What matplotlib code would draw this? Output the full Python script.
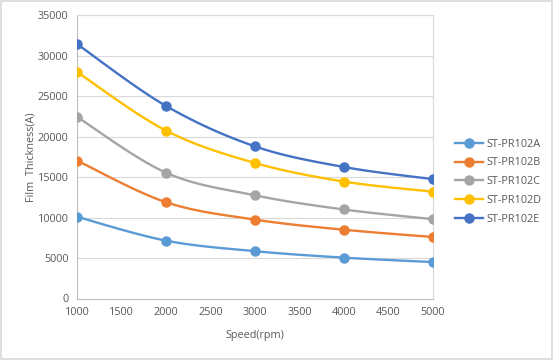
import numpy as np
import matplotlib
matplotlib.use("Agg")
import matplotlib.pyplot as plt
from matplotlib.patches import Rectangle

# Data
speeds = [1000, 2000, 3000, 4000, 5000]
series_names = ["ST-PR102A", "ST-PR102B", "ST-PR102C", "ST-PR102D", "ST-PR102E"]
pr102a = [10100, 7150, 5850, 5050, 4500]
pr102b = [17050, 11900, 9750, 8500, 7600]
pr102c = [22450, 15550, 12750, 11000, 9800]
pr102d = [28000, 20750, 16750, 14450, 13200]
pr102e = [31450, 23800, 18800, 16250, 14750]
colors = ["#5B9BD5", "#ED7D31", "#A5A5A5", "#FFC000", "#4472C4"]
yticks = [0, 5000, 10000, 15000, 20000, 25000, 30000, 35000]
xticks = [1000, 1500, 2000, 2500, 3000, 3500, 4000, 4500, 5000]


def smooth(x, y, n=30):
    # Excel-style smoothed line (Catmull-Rom bezier)
    x = np.asarray(x, float)
    y = np.asarray(y, float)
    px = np.concatenate([[x[0]], x, [x[-1]]])
    py = np.concatenate([[y[0]], y, [y[-1]]])
    xs, ys = [], []
    t = np.linspace(0, 1, n)
    for i in range(1, len(px) - 2):
        p0 = np.array([px[i], py[i]])
        p3 = np.array([px[i + 1], py[i + 1]])
        p1 = p0 + (p3 - np.array([px[i - 1], py[i - 1]])) / 6.0
        p2 = p3 - (np.array([px[i + 2], py[i + 2]]) - p0) / 6.0
        b = ((1 - t) ** 3)[:, None] * p0 + (3 * (1 - t) ** 2 * t)[:, None] * p1 \
            + (3 * (1 - t) * t ** 2)[:, None] * p2 + (t ** 3)[:, None] * p3
        xs.extend(b[:, 0])
        ys.extend(b[:, 1])
    return xs, ys


plt.rcParams['font.family'] = ['Open Sans', 'DejaVu Sans']
txt = "#595959"

fig = plt.figure(figsize=(5.53, 3.6), dpi=100)
fig.patches.append(Rectangle((0.001, 0.002), 0.997, 0.995, transform=fig.transFigure,
                             fill=False, edgecolor="#d9d9d9", linewidth=1.2))
ax = fig.add_axes([77 / 553, 1 - 298.5 / 360, (433 - 77) / 553, (298.5 - 15.3) / 360])

all_series = [pr102a, pr102b, pr102c, pr102d, pr102e]
for name, vals, c in zip(series_names, all_series, colors):
    sx, sy = smooth(speeds, vals)
    ax.plot(sx, sy, color=c, linewidth=1.7, solid_capstyle="round", zorder=3)
    ax.plot(speeds, vals, linestyle="none", marker="o", markersize=6.5,
            color=c, zorder=4)
    ax.plot([], [], color=c, linewidth=1.7, marker="o", markersize=6.5, label=name)

ax.set_xlim(1000, 5000)
ax.set_ylim(0, 35000)
ax.set_xticks(xticks)
ax.set_yticks(yticks)
ax.grid(axis="y", color="#d9d9d9", linewidth=0.8)
ax.set_axisbelow(True)
for s in ax.spines.values():
    s.set_color("#d9d9d9")
    s.set_linewidth(0.8)
ax.spines["left"].set_color("#bfbfbf")
ax.spines["bottom"].set_color("#bfbfbf")
ax.tick_params(length=0, labelsize=7.8, colors=txt, pad=6)

ax.set_xlabel("Speed(rpm)", fontsize=7.8, color=txt, labelpad=9)
ax.set_ylabel("Film  Thickness(A)", fontsize=7.8, color=txt, labelpad=1)

leg = ax.legend(loc="upper left", bbox_to_anchor=(1.05, 0.58), frameon=False,
                fontsize=7.8, handlelength=2.6, handletextpad=0.3,
                labelspacing=0.72, borderaxespad=0)
for t in leg.get_texts():
    t.set_color(txt)

fig.savefig("out.png", dpi=100)
